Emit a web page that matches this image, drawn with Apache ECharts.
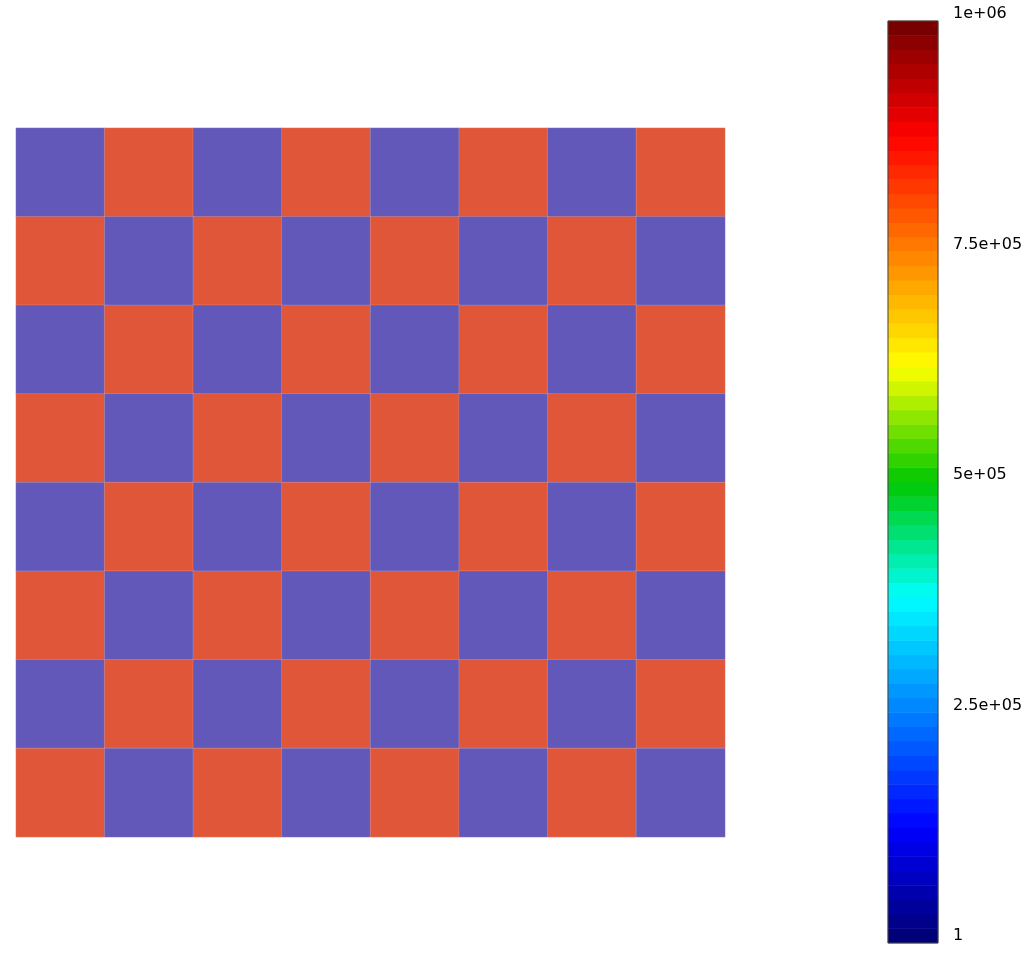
<!DOCTYPE html>
<html>
<head>
<meta charset="utf-8">
<script src="https://cdn.jsdelivr.net/npm/echarts@6/dist/echarts.min.js"></script>
<style>
html,body{margin:0;padding:0;background:#fff;}
#chart{width:1033px;height:953px;}
</style>
</head>
<body>
<div id="chart"></div>
<script>
// Checkerboard grid (row 0 = top row)
const cols = ['0','1','2','3','4','5','6','7'];
const rows = ['0','1','2','3','4','5','6','7'];
const cellValues = [
  [0,1,0,1,0,1,0,1],
  [1,0,1,0,1,0,1,0],
  [0,1,0,1,0,1,0,1],
  [1,0,1,0,1,0,1,0],
  [0,1,0,1,0,1,0,1],
  [1,0,1,0,1,0,1,0],
  [0,1,0,1,0,1,0,1],
  [1,0,1,0,1,0,1,0]
];
const cellColors = ['#6158b9', '#e05638'];

// Colorbar
const cbMin = 0;
const cbMax = 1000000;
const cbTicks = [0, 250000, 500000, 750000, 1000000];
const cbTickLabels = ['1', '2.5e+05', '5e+05', '7.5e+05', '1e+06'];
const cbColors = ['#000070','#0000ff','#0080ff','#00ffff','#00c800','#ffff00','#ff8000','#ff0000','#700000'];
const cbBands = 64;

const heatData = [];
cellValues.forEach((r, ri) => r.forEach((v, ci) => heatData.push([ci, ri, v])));

const bandCats = [];
const bandData = [];
for (let i = 0; i < cbBands; i++) {
  bandCats.push(String(i));
  bandData.push([0, i, cbMin + (i + 0.5) * (cbMax - cbMin) / cbBands]);
}

const chart = echarts.init(document.getElementById('chart'));
chart.setOption({
  animation: false,
  backgroundColor: '#ffffff',
  grid: [
    {left: 16, top: 128, width: 709, height: 709},
    {left: 888, top: 21, width: 50, height: 922, show: true, borderColor: '#444', borderWidth: 1, backgroundColor: 'transparent', z: 5}
  ],
  xAxis: [
    {type: 'category', data: cols, gridIndex: 0, show: false},
    {type: 'category', data: ['c'], gridIndex: 1, show: false}
  ],
  yAxis: [
    {type: 'category', data: rows, gridIndex: 0, inverse: true, show: false},
    {type: 'category', data: bandCats, gridIndex: 1, show: false},
    {type: 'value', gridIndex: 1, min: cbMin, max: cbMax, interval: 250000, position: 'right',
     axisLine: {show: false}, axisTick: {show: false}, splitLine: {show: false},
     axisLabel: {
       margin: 15, verticalAlign: 'bottom', color: '#000', fontSize: 16, padding: [0,0,-1,0],
       fontFamily: 'DejaVu Sans',
       formatter: function (v) { const i = cbTicks.indexOf(v); return i >= 0 ? cbTickLabels[i] : ''; }
     }}
  ],
  visualMap: [
    {type: 'piecewise', show: false, seriesIndex: 0, dimension: 2,
     pieces: [{value: 0, color: cellColors[0]}, {value: 1, color: cellColors[1]}]},
    {type: 'continuous', show: false, seriesIndex: 1, dimension: 2, min: cbMin, max: cbMax,
     inRange: {color: cbColors}}
  ],
  series: [
    {type: 'heatmap', xAxisIndex: 0, yAxisIndex: 0, data: heatData,
     itemStyle: {borderColor: 'rgba(255,255,255,0.25)', borderWidth: 0.6},
     emphasis: {disabled: true}},
    {type: 'heatmap', xAxisIndex: 1, yAxisIndex: 1, data: bandData,
     emphasis: {disabled: true}}
  ]
});
</script>
</body>
</html>
